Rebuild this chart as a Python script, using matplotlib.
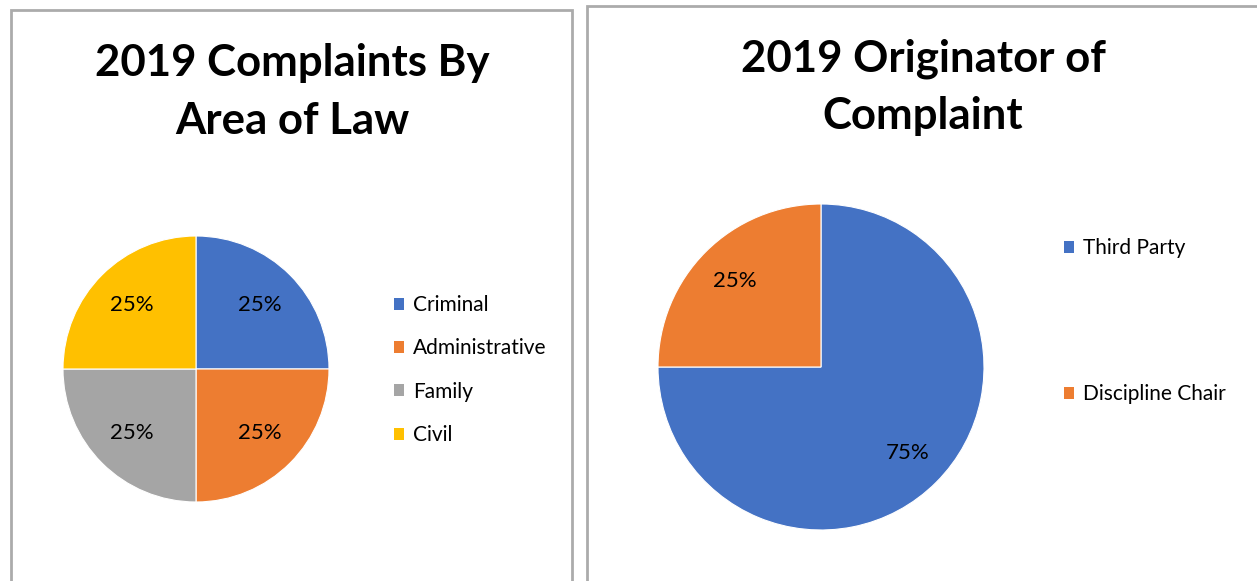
import matplotlib.pyplot as plt
from matplotlib.patches import Rectangle, Patch

# data
area_labels = ['Criminal', 'Administrative', 'Family', 'Civil']
area_values = [25, 25, 25, 25]
area_colors = ['#4472C4', '#ED7D31', '#A5A5A5', '#FFC000']

orig_labels = ['Third Party', 'Discipline Chair']
orig_values = [75, 25]
orig_colors = ['#4472C4', '#ED7D31']

W, H = 1257, 581
plt.rcParams['font.family'] = ['Lato', 'DejaVu Sans']

fig = plt.figure(figsize=(W / 100, H / 100), dpi=100)


def fx(px):
    return px / W


def fy(py):
    return 1 - py / H


# panel borders
border = dict(fill=False, edgecolor='#ABABAB', linewidth=2, transform=fig.transFigure)
fig.patches.append(Rectangle((fx(11), fy(600)), fx(572 - 11), (600 - 10) / H, **border))
fig.patches.append(Rectangle((fx(587), fy(600)), fx(1290 - 587), (600 - 6) / H, **border))


def make_pie(cx, cy, r, values, colors, pctdist):
    ax = fig.add_axes([fx(cx - r), fy(cy + r), 2 * r / W, 2 * r / H])
    wedges, _, autotexts = ax.pie(values, colors=colors, startangle=90, counterclock=False,
                                  autopct='%d%%', pctdistance=pctdist, radius=1,
                                  wedgeprops=dict(edgecolor='white', linewidth=0.8),
                                  textprops=dict(fontsize=16, color='black'))
    ax.set_xlim(-1, 1)
    ax.set_ylim(-1, 1)
    ax.set_aspect('equal')
    ax.axis('off')
    return ax, wedges


ax1, w1 = make_pie(196, 369, 133, area_values, area_colors, 0.68)
ax2, w2 = make_pie(821, 367, 163, orig_values, orig_colors, 0.75)

fig.text(fx(292), fy(92), '2019 Complaints By\nArea of Law', ha='center', va='center',
         fontsize=31.5, fontweight='bold', linespacing=1.52)
fig.text(fx(923), fy(87), '2019 Originator of\nComplaint', ha='center', va='center',
         fontsize=31.5, fontweight='bold', linespacing=1.52)

handles1 = [Patch(facecolor=c) for c in area_colors]
fig.legend(handles1, area_labels, loc='upper left', bbox_to_anchor=(fx(394), fy(295)),
           frameon=False, fontsize=15, handlelength=0.5, handleheight=0.5,
           handletextpad=0.4, labelspacing=1.12, borderpad=0, borderaxespad=0)

handles2 = [Patch(facecolor=c) for c in orig_colors]
fig.legend(handles2, orig_labels, loc='upper left', bbox_to_anchor=(fx(1064), fy(238)),
           frameon=False, fontsize=15, handlelength=0.5, handleheight=0.5,
           handletextpad=0.4, labelspacing=6.05, borderpad=0, borderaxespad=0)

fig.savefig('out.png', dpi=100)
